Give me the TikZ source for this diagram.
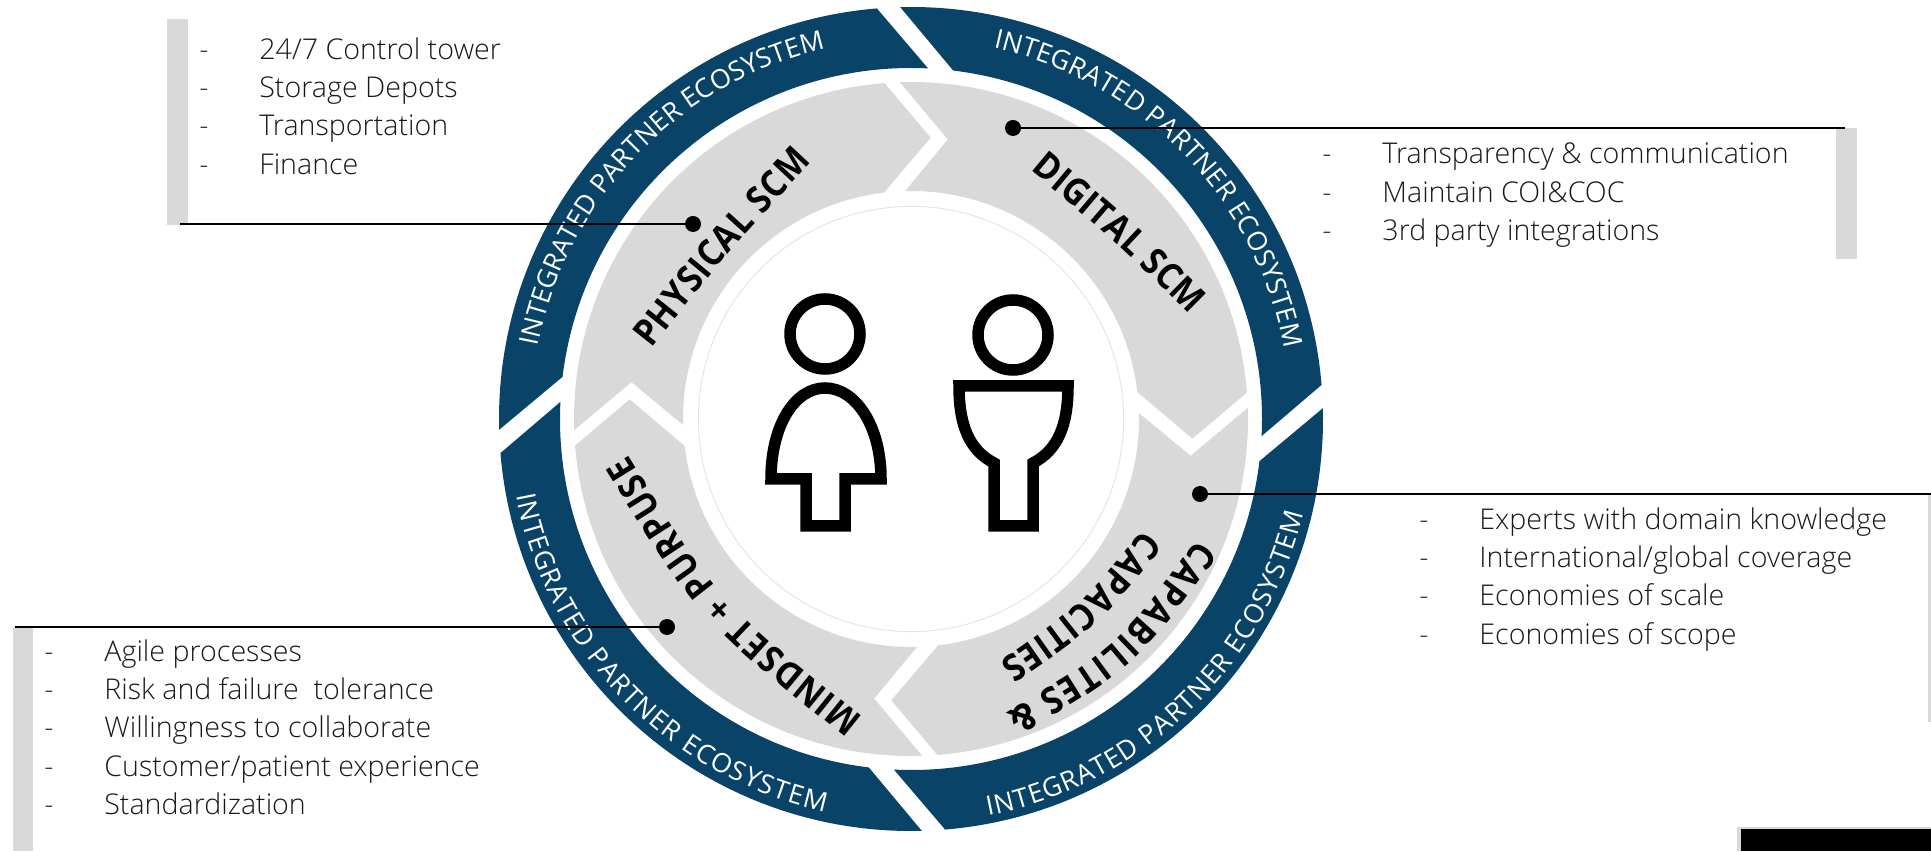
\documentclass[tikz,border=0pt]{standalone}
\usepackage{fontspec}
\setmainfont{Open Sans}
\newfontfamily\listfont{Open Sans Light}
\newfontfamily\scmbold[FakeStretch=.9]{Open Sans Bold}
\usepackage{xcolor}
\usetikzlibrary{decorations.text}
\definecolor{ringblue}{HTML}{094468}
\definecolor{arrowgrey}{HTML}{D9D9D9}
\newcommand{\ringfont}{\fontsize{13.3}{15}\selectfont}
\newcommand{\scmfont}{\scmbold\fontsize{18.5}{20}\selectfont}
\newcommand{\listline}[1]{\strut\makebox[30pt][l]{-}#1}
\newcommand{\ringlabel}[3]{\path[decorate, decoration={text along path, text align={fit to path}, text={|\ringfont\color{white}|INTEGRATED PARTNER ECOSYSTEM}}] (#1:#3*2) arc[start angle=#1, end angle=#2, radius=#3 pt];}
\newcommand{\scmlabel}[4]{\path[decorate, decoration={text along path, text align={fit to path}, text={|\scmfont|#4}}] #1 .. controls #2 .. #3;}

\begin{document}
\begin{tikzpicture}[x=.5pt, y=.5pt,
    listbox/.style={anchor=north west, inner sep=0pt, align=left, text=black!90, font=\listfont\fontsize{14.3}{19.1}\selectfont},
    dotmark/.style={circle, fill=black, inner sep=0pt, minimum size=8pt},
    leader/.style={line width=1.3pt},
    personline/.style={line width=5.75pt, miter limit=10}]
    \useasboundingbox (0,0) rectangle (1931,851);
    \begin{scope}[shift={(911,432)}]
        \foreach \turn in {0,90,180,270} {
            \fill[ringblue, rotate=-\turn] (181.5:412) arc[start angle=181.5, end angle=94.75, radius=206pt] -- (87.2:351) arc[start angle=87.2, end angle=173.1, radius=175.5pt] -- cycle;
            \fill[arrowgrey, rotate=-\turn] (181.9:337) arc[start angle=181.9, end angle=94.5, radius=168.5pt] -- (86:282) -- (96.8:228) arc[start angle=96.8, end angle=181.5, radius=114pt] -- (172.5:282) -- cycle;
        }
        \draw[black!10, line width=.5pt] (0,0) circle[radius=106.3pt];
        \ringlabel{169}{103.5}{190}
        \ringlabel{77.5}{10.7}{190}
        \ringlabel{-79}{-13.5}{202}
        \ringlabel{190.9}{257.6}{201}
    \end{scope}
    \scmlabel{(651,502)}{(728,599)}{(812,689)}{PHYSICAL SCM}
    \scmlabel{(1030,681)}{(1113,612)}{(1190,536)}{DIGITAL SCM}
    \scmlabel{(1197,312)}{(1119,205)}{(1006,138)}{CAPABILITES {\&}}
    \scmlabel{(1143,321)}{(1080,245)}{(999,189)}{CAPACITIES}
    \scmlabel{(863,133)}{(719.5,248)}{(628,396)}{MINDSET + PURPUSE}
    \draw[personline] (825,517) circle[radius=17.5pt];
    \draw[personline] (771,372) .. controls (771,426) and (795,463) .. (825,463) .. controls (855,463) and (881,426) .. (881,372) -- (845,372) -- (845,325) -- (806,325) -- (806,372) -- cycle;
    \draw[personline] (1013,516) circle[radius=17.5pt];
    \draw[personline] (959,465) -- (1068,465) .. controls (1068,426) and (1058,401) .. (1033,388) -- (1033,325) -- (994,325) -- (994,388) .. controls (969,401) and (959,426) .. (959,465) -- cycle;
    \fill[arrowgrey] (167,832) rectangle (188,626);
    \fill[arrowgrey] (1836,723) rectangle (1857,592);
    \fill[arrowgrey] (1928,357) rectangle (1931,129);
    \fill[arrowgrey] (13,224) rectangle (33,0);
    \fill[black!15] (1737,0) rectangle (1931,24);
    \fill[black] (1741,0) rectangle (1931,22);
    \node[listbox] (physlist) at (199,818.7) {\listline{24/7 Control tower}\\\listline{Storage Depots}\\\listline{Transportation}\\\listline{Finance}};
    \node[listbox] (digilist) at (1322,714.2) {\listline{Transparency \& communication}\\\listline{Maintain COI\&COC}\\\listline{3rd party integrations}};
    \node[listbox] (capalist) at (1419,348.7) {\listline{Experts with domain knowledge}\\\listline{International/global coverage}\\\listline{Economies of scale}\\\listline{Economies of scope}};
    \node[listbox] (mindlist) at (44,216.7) {\listline{Agile processes}\\\listline{Risk and failure\ \ tolerance}\\\listline{Willingness to collaborate}\\\listline{Customer/patient experience}\\\listline{Standardization}};
    \node[dotmark] (physdot) at (693,627) {};
    \node[dotmark] (digidot) at (1013,723) {};
    \node[dotmark] (capadot) at (1200,357) {};
    \node[dotmark] (minddot) at (667,224) {};
    \coordinate (physend) at (180,627);
    \coordinate (digiend) at (1845,723);
    \coordinate (capaend) at (1931,357);
    \coordinate (mindend) at (15,224);
    \draw[leader] (physdot) -- (physend);
    \draw[leader] (digidot) -- (digiend);
    \draw[leader] (capadot) -- (capaend);
    \draw[leader] (minddot) -- (mindend);
\end{tikzpicture}
\end{document}
